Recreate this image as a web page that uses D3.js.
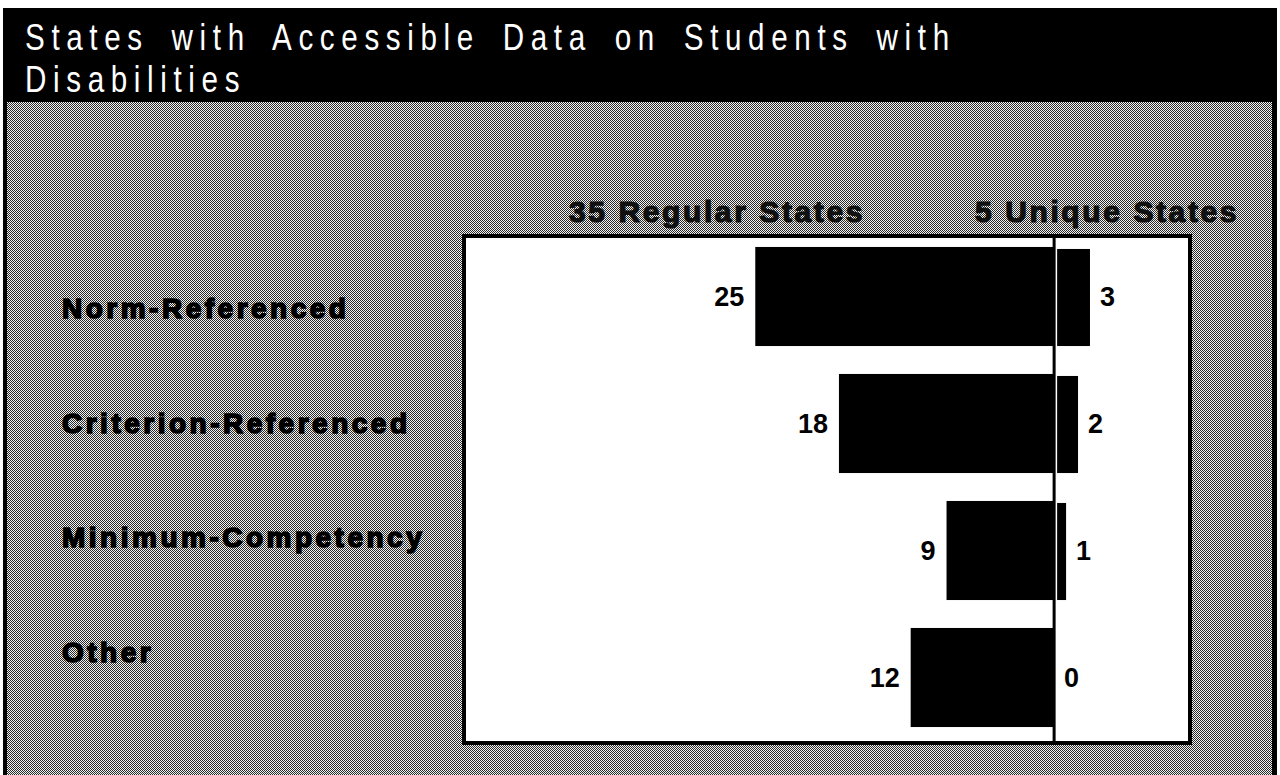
<!DOCTYPE html>
<meta charset="utf-8">
<style>
body { margin: 0; background: #fff; }
svg { display: block; }
.title { font: 37px "Liberation Sans", Arial, sans-serif; fill: #fff; letter-spacing: 8.3px; word-spacing: 10px; }
.cat { font: bold 28px "Liberation Sans", Arial, sans-serif; fill: #000; stroke: #000; stroke-width: 1.6px; letter-spacing: 3.5px; }
.group { font: bold 30px "Liberation Sans", Arial, sans-serif; fill: #111; stroke: #111; stroke-width: 1.2px; letter-spacing: 2.6px; }
.val { font: bold 27px "Liberation Sans", Arial, sans-serif; fill: #000; }
</style>
<body>
<div id="chart"></div>
<script src="https://cdn.jsdelivr.net/npm/d3@7"></script>
<script>
var titleLines = ["States with Accessible Data on Students with", "Disabilities"];
var categories = ["Norm-Referenced", "Criterion-Referenced", "Minimum-Competency", "Other"];
var regular = [25, 18, 9, 12];
var unique = [3, 2, 1, 0];
var groupLabels = ["35 Regular States", "5 Unique States"];

var W = 1280, H = 775;

var svg = d3.select("#chart").append("svg")
    .attr("width", W)
    .attr("height", H);

// dithered grey like the scanned original
var pat = svg.append("defs").append("pattern")
    .attr("id", "dither")
    .attr("width", 2).attr("height", 2)
    .attr("patternUnits", "userSpaceOnUse");
pat.append("rect").attr("width", 2).attr("height", 2).attr("fill", "#f2f2f2");
pat.append("rect").attr("width", 1).attr("height", 1).attr("fill", "#2a2a2a");
pat.append("rect").attr("x", 1).attr("y", 1).attr("width", 1).attr("height", 1).attr("fill", "#2a2a2a");

// black frame + title bar
svg.append("rect").attr("x", 3).attr("y", 8).attr("width", 1274).attr("height", H - 8).attr("fill", "#000");
svg.append("rect").attr("x", 7).attr("y", 102).attr("width", 1265).attr("height", H - 102).attr("fill", "url(#dither)");

// narrow title face: squeeze horizontally
svg.selectAll(".title")
    .data(titleLines)
  .enter().append("text")
    .attr("class", "title")
    .attr("transform", function(d, i) { return "translate(25," + (50 + i * 42) + ") scale(0.8,1)"; })
    .text(function(d) { return d; });

var box = {left: 464, top: 236, right: 1190, bottom: 743};

var x = d3.scaleLinear().domain([-49.2, 11.2]).range([466, 1188]);
var y = d3.scaleBand().domain(categories).range([233, 741]).paddingInner(0.22).paddingOuter(0.11);
var yLab = d3.scalePoint().domain(categories).range([318, 662]);

svg.append("rect")
    .attr("x", box.left).attr("y", box.top)
    .attr("width", box.right - box.left).attr("height", box.bottom - box.top)
    .attr("fill", "#fff").attr("stroke", "#000").attr("stroke-width", 4);

// regular states, to the left of zero
svg.selectAll(".bar-reg")
    .data(regular)
  .enter().append("rect")
    .attr("class", "bar-reg")
    .attr("x", function(d) { return x(-d); })
    .attr("y", function(d, i) { return y(categories[i]); })
    .attr("width", function(d) { return x(0) - x(-d); })
    .attr("height", y.bandwidth())
    .attr("fill", "#000");

// unique states, to the right
svg.selectAll(".bar-uni")
    .data(unique)
  .enter().append("rect")
    .attr("class", "bar-uni")
    .attr("x", x(0) + 3)
    .attr("y", function(d, i) { return y(categories[i]) + 2; })
    .attr("width", function(d) { return Math.max(0, x(d) - x(0) - 3); })
    .attr("height", y.bandwidth() - 2)
    .attr("fill", "#000");

svg.append("line")
    .attr("x1", x(0)).attr("x2", x(0))
    .attr("y1", box.top).attr("y2", box.bottom)
    .attr("stroke", "#000").attr("stroke-width", 3);

svg.selectAll(".val-reg")
    .data(regular)
  .enter().append("text")
    .attr("class", "val")
    .attr("x", function(d) { return x(-d) - 11; })
    .attr("y", function(d, i) { return y(categories[i]) + y.bandwidth() / 2; })
    .attr("dy", "0.35em")
    .attr("text-anchor", "end")
    .text(function(d) { return d; });

svg.selectAll(".val-uni")
    .data(unique)
  .enter().append("text")
    .attr("class", "val")
    .attr("x", function(d) { return x(d) + 10; })
    .attr("y", function(d, i) { return y(categories[i]) + y.bandwidth() / 2; })
    .attr("dy", "0.35em")
    .text(function(d) { return d; });

svg.selectAll(".cat")
    .data(categories)
  .enter().append("text")
    .attr("class", "cat")
    .attr("x", 62)
    .attr("y", function(d) { return yLab(d); })
    .text(function(d) { return d; });

svg.append("text").attr("class", "group")
    .attr("x", 865).attr("y", 222)
    .attr("text-anchor", "end")
    .text(groupLabels[0]);
svg.append("text").attr("class", "group")
    .attr("x", 975).attr("y", 222)
    .text(groupLabels[1]);
</script>
</body>
